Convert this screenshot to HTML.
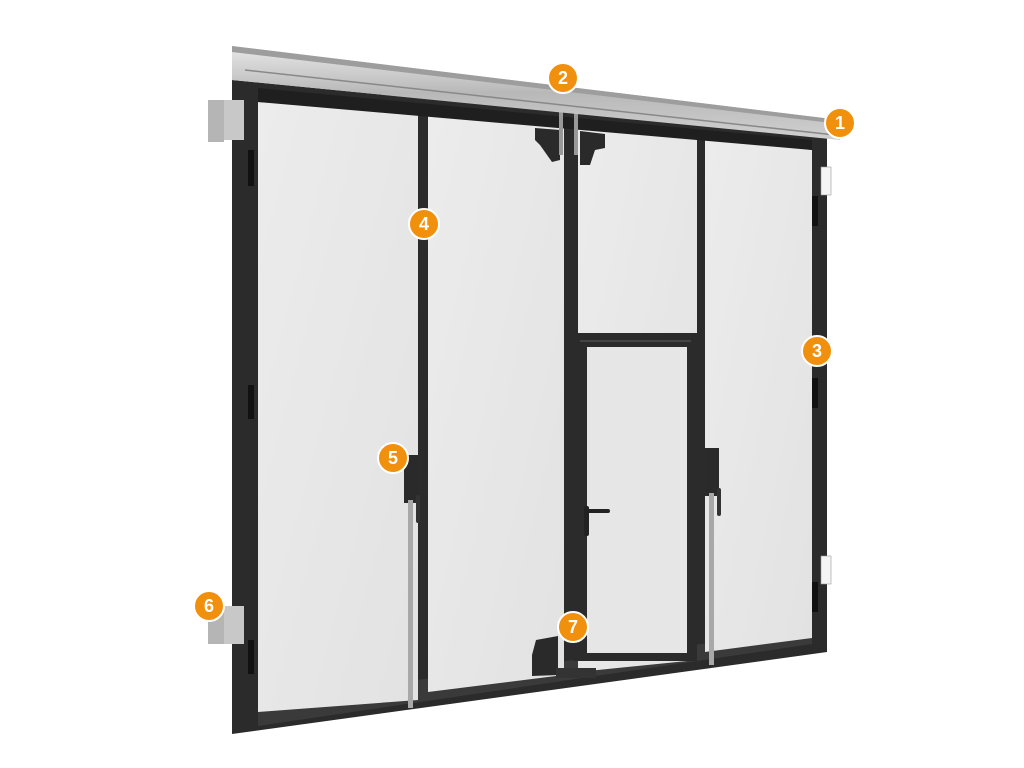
<!DOCTYPE html>
<html><head><meta charset="utf-8"><style>
html,body{margin:0;padding:0;background:#fff;width:1024px;height:768px;overflow:hidden}
svg{display:block}
text{font-family:"Liberation Sans",sans-serif;font-weight:bold;fill:#fff;font-size:18px}
</style></head><body>
<svg width="1024" height="768" viewBox="0 0 1024 768" xmlns="http://www.w3.org/2000/svg">
<defs>
<linearGradient id="pan" x1="0" y1="0" x2="1" y2="1">
<stop offset="0" stop-color="#ececec"/><stop offset="1" stop-color="#e2e2e2"/>
</linearGradient>
<linearGradient id="rail" x1="0" y1="0" x2="0" y2="1">
<stop offset="0" stop-color="#e8e8e8"/><stop offset="0.5" stop-color="#b8b8b8"/><stop offset="1" stop-color="#d0d0d0"/>
</linearGradient>
</defs>
<polygon points="232,80 827,138 827,652 232,734" fill="#2b2b2b"/>
<polygon points="258,700 812,630 812,644 258,726" fill="#3a3a3a"/>
<polygon points="258,102 418,112 418,700 258,712" fill="url(#pan)"/>
<polygon points="428,113 564,124 564,675 428,692" fill="url(#pan)"/>
<polygon points="578,126 697,136 697,660 578,672" fill="url(#pan)"/>
<polygon points="705,137 812,150 812,638 705,652" fill="url(#pan)"/>
<polygon points="258,88 812,140 812,150 258,102" fill="#1f1f1f"/>
<rect x="573" y="333" width="124" height="328" fill="#2b2b2b"/>
<rect x="587" y="347" width="100" height="306" fill="#e6e6e6"/>
<rect x="580" y="340" width="111" height="2" fill="#444"/>
<rect x="584" y="506" width="5" height="30" rx="2" fill="#222"/>
<rect x="584" y="509" width="26" height="4" rx="2" fill="#222"/>
<polygon points="535,128 560,130 560,160 552,162 540,145 535,140" fill="#2a2a2a"/>
<polygon points="580,131 605,134 605,148 595,150 590,165 580,165" fill="#2a2a2a"/>
<rect x="559" y="95" width="4" height="60" fill="#999"/>
<rect x="574" y="95" width="4" height="60" fill="#999"/>
<polygon points="536,640 558,636 558,675 532,676 532,655" fill="#2a2a2a"/>
<rect x="556" y="668" width="40" height="10" fill="#333"/>
<polygon points="232,46 840,120 840,140 232,80" fill="url(#rail)"/>
<polygon points="232,46 840,120 840,124 232,52" fill="#9d9d9d"/>
<line x1="245" y1="70" x2="835" y2="135" stroke="#888" stroke-width="1.5"/>
<rect x="208" y="100" width="16" height="42" fill="#b5b5b5"/>
<rect x="224" y="100" width="20" height="40" fill="#c8c8c8"/>
<rect x="208" y="606" width="16" height="38" fill="#b5b5b5"/>
<rect x="224" y="606" width="20" height="38" fill="#c8c8c8"/>
<rect x="248" y="150" width="6" height="36" fill="#111"/>
<rect x="248" y="385" width="6" height="34" fill="#111"/>
<rect x="248" y="640" width="6" height="34" fill="#111"/>
<rect x="821" y="167" width="10" height="28" fill="#f4f4f4" stroke="#999" stroke-width="0.6"/>
<rect x="821" y="556" width="10" height="28" fill="#f4f4f4" stroke="#999" stroke-width="0.6"/>
<rect x="812" y="196" width="6" height="30" fill="#111"/>
<rect x="812" y="378" width="6" height="30" fill="#111"/>
<rect x="812" y="582" width="6" height="30" fill="#111"/>
<rect x="404" y="455" width="14" height="48" fill="#2a2a2a"/>
<rect x="408" y="500" width="5" height="208" fill="#a8a8a8"/>
<rect x="416" y="495" width="4" height="28" rx="2" fill="#333"/>
<rect x="705" y="448" width="14" height="48" fill="#2a2a2a"/>
<rect x="709" y="493" width="5" height="172" fill="#a8a8a8"/>
<rect x="717" y="488" width="4" height="28" rx="2" fill="#333"/>
<g stroke="#fff" stroke-width="2" fill="#f0900c">
<circle cx="840" cy="123" r="15"/><circle cx="563" cy="78" r="15"/>
<circle cx="817" cy="351" r="15"/><circle cx="424" cy="224" r="15"/>
<circle cx="393" cy="458" r="15"/><circle cx="209" cy="606" r="15"/>
<circle cx="573" cy="627" r="15"/>
</g>
<g text-anchor="middle">
<text x="840" y="129">1</text><text x="563" y="84">2</text>
<text x="817" y="357">3</text><text x="424" y="230">4</text>
<text x="393" y="464">5</text><text x="209" y="612">6</text>
<text x="573" y="633">7</text>
</g>
</svg>
</body></html>
